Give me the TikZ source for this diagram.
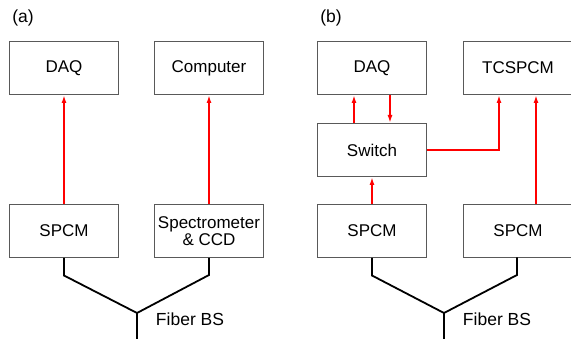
\documentclass[tikz,border=0pt]{standalone}
\usepackage{fontspec}
\setmainfont{Liberation Sans}
\usetikzlibrary{arrows.meta}
\begin{document}
\begin{tikzpicture}[x=1pt,y=-1pt,
  blk/.style={draw=black!65,line width=1pt,minimum width=109pt,minimum height=53pt,inner sep=0pt,align=center,font=\fontsize{17}{19.5}\selectfont},
  sig/.style={draw=red,line width=2pt,-{Latex[length=8pt,width=5pt]}},
  fib/.style={draw=black,line width=1.8pt},
  lbl/.style={font=\fontsize{17.5}{20}\selectfont,inner sep=0pt}]
\useasboundingbox (0,0) rectangle (571,339);
% panel a
\node[lbl] (la) at (23,18) {(a)};
\node[blk] (daqa) at (64,68) {DAQ};
\node[blk] (comp) at (209,68) {Computer};
\node[blk] (spcma) at (64,231) {SPCM};
\node[blk] (spec) at (209,231) {Spectrometer\\[-2pt]\& CCD};
\draw[sig] (spcma.north) -- (daqa.south);
\draw[sig] (spec.north) -- (comp.south);
\coordinate (bsa) at (137,313);
\coordinate (enda) at (137,339);
\draw[fib] (spcma.south) -- ++(0,17.5) -- (bsa) -- ++(72,-38) -- (spec.south);
\draw[fib] (bsa) -- (enda);
\node[lbl] (fa) at (190,319) {Fiber BS};
% panel b
\node[lbl] (lb) at (331,18) {(b)};
\node[blk] (daqb) at (372,68) {DAQ};
\node[blk] (tcs) at (518,68) {TCSPCM};
\node[blk] (sw) at (372,150) {Switch};
\node[blk] (spcmb) at (372,231) {SPCM};
\node[blk] (spcmc) at (518,231) {SPCM};
\draw[sig] ([xshift=-18pt]sw.north) -- ([xshift=-18pt]daqb.south);
\draw[sig] ([xshift=18pt]daqb.south) -- ([xshift=18pt]sw.north);
\draw[sig] (spcmb.north) -- (sw.south);
\draw[sig] (sw.east) -| ([xshift=-19pt]tcs.south);
\draw[sig] ([xshift=18pt]spcmc.north) -- ([xshift=18pt]tcs.south);
\coordinate (bsb) at (444,313);
\coordinate (endb) at (444,339);
\draw[fib] (spcmb.south) -- ++(0,17.5) -- (bsb) -- ++(73,-38) -- ++(0,-17.5);
\draw[fib] (bsb) -- (endb);
\node[lbl] (fb) at (497,319) {Fiber BS};
\end{tikzpicture}
\end{document}
